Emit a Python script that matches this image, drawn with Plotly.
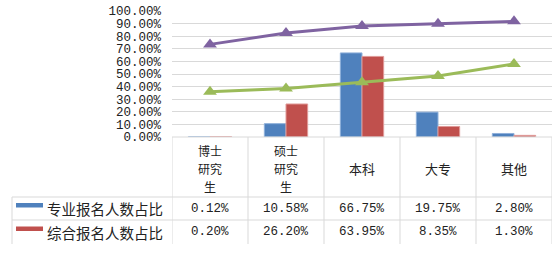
import plotly.graph_objects as go

categories = ["博士研究生", "硕士研究生", "本科", "大专", "其他"]
header_lines = [["博士", "研究", "生"], ["硕士", "研究", "生"], ["本科"], ["大专"], ["其他"]]
series_names = ["专业报名人数占比", "综合报名人数占比"]
pro_share = [0.12, 10.58, 66.75, 19.75, 2.80]
gen_share = [0.20, 26.20, 63.95, 8.35, 1.30]
line_purple = [73.5, 82.5, 88.0, 89.8, 91.8]
line_green = [36.0, 38.5, 43.5, 48.5, 58.0]

BLUE = "#4F81BD"
RED = "#C0504D"
PURPLE = "#7F63A1"
GREEN = "#9BBB59"
GRID = "#D9D9D9"

W, H = 553, 253
L, R, T, B = 172, 1, 11, 116
PW = W - L - R
PH = H - T - B


def px(xpix):
    return (xpix - L) / PW


def py(ypix):
    return (H - B - ypix) / PH


fig = go.Figure()
fig.add_trace(go.Bar(x=categories, y=pro_share, name=series_names[0],
                     marker=dict(color=BLUE, line=dict(color="#8FB0DA", width=1))))
fig.add_trace(go.Bar(x=categories, y=gen_share, name=series_names[1],
                     marker=dict(color=RED, line=dict(color="#E09A98", width=1))))
fig.add_trace(go.Scatter(x=categories, y=line_purple, mode="lines+markers",
                         line=dict(color=PURPLE, width=3),
                         marker=dict(symbol="triangle-up", size=12, color=PURPLE)))
fig.add_trace(go.Scatter(x=categories, y=line_green, mode="lines+markers",
                         line=dict(color=GREEN, width=3),
                         marker=dict(symbol="triangle-up", size=12, color=GREEN)))

shapes = []
annotations = []
line_style = dict(color=GRID, width=1)

for i in range(len(categories) + 1):
    xv = i - 0.5
    shapes.append(dict(type="line", xref="x", yref="paper", x0=xv, x1=xv,
                       y0=py(137), y1=py(244), line=line_style))
shapes.append(dict(type="line", xref="paper", yref="paper", x0=px(12), x1=px(12),
                   y0=py(197), y1=py(244), line=line_style))
for yy in [197, 220]:
    shapes.append(dict(type="line", xref="paper", yref="paper", x0=px(12), x1=1,
                       y0=py(yy), y1=py(yy), line=line_style))
shapes.append(dict(type="line", xref="paper", yref="paper", x0=0, x1=1,
                   y0=0, y1=0, line=line_style))

cjk = "Noto Sans CJK SC"
mono = "Liberation Mono"

for cat, lines in zip(categories, header_lines):
    n = len(lines)
    fs = 12 if n > 1 else 13
    for k, txt in enumerate(lines):
        yc = 168.5 + (k - (n - 1) / 2) * 17.6
        annotations.append(dict(x=cat, xref="x", y=py(yc), yref="paper", text=txt,
                                showarrow=False, xanchor="center", yanchor="middle",
                                borderpad=0,
                                font=dict(family=cjk, size=fs, color="#222")))

rows = [(series_names[0], pro_share, BLUE, 208.5), (series_names[1], gen_share, RED, 232)]
for name, vals, col, yc in rows:
    shapes.append(dict(type="rect", xref="paper", yref="paper", x0=px(16), x1=px(43),
                       y0=py(yc - 1), y1=py(yc - 5.5), fillcolor=col, line=dict(width=0)))
    annotations.append(dict(x=px(46), xref="paper", y=py(yc), yref="paper", text=name,
                            showarrow=False, xanchor="left", yanchor="middle",
                            borderpad=0,
                            font=dict(family=cjk, size=14.5, color="#222")))
    for cat, v in zip(categories, vals):
        annotations.append(dict(x=cat, xref="x", y=py(yc), yref="paper", text=f"{v:.2f}%",
                                showarrow=False, xanchor="center", yanchor="middle",
                                borderpad=0,
                                font=dict(family=mono, size=12.5, color="#222")))

fig.update_layout(
    width=W, height=H,
    margin=dict(l=L, r=R, t=T, b=B),
    paper_bgcolor="white", plot_bgcolor="white",
    showlegend=False,
    barmode="group", bargap=0.43, bargroupgap=0,
    shapes=shapes, annotations=annotations,
    xaxis=dict(showticklabels=False, showgrid=False, zeroline=False, showline=False,
               ticks="", range=[-0.5, 4.5]),
    yaxis=dict(range=[0, 100], dtick=10, tickformat=".2f", ticksuffix="%",
               showgrid=True, gridcolor=GRID, gridwidth=1, zeroline=False,
               ticks="", ticklabelstandoff=10,
               tickfont=dict(family=mono, size=12.5, color="#222")),
)

fig.write_html("out.html")
